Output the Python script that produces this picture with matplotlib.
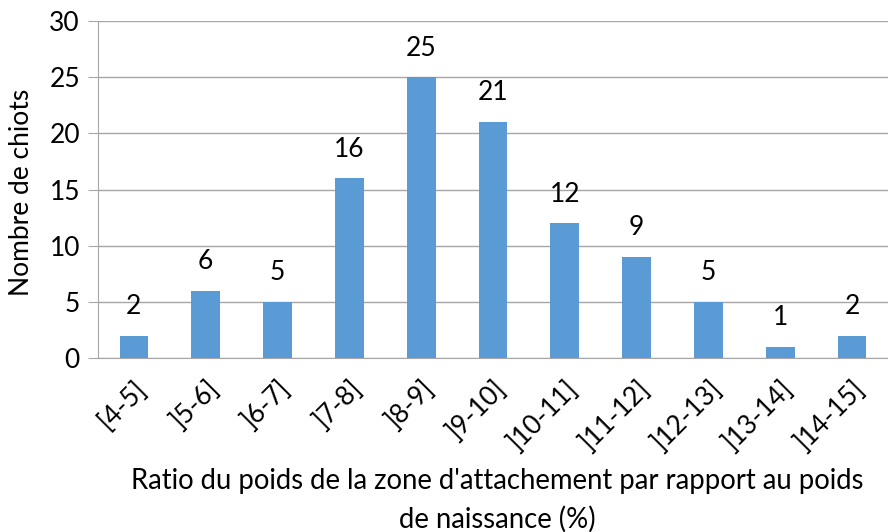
import matplotlib
matplotlib.use("Agg")
import matplotlib.pyplot as plt

categories = ["[4-5]", "]5-6]", "]6-7]", "]7-8]", "]8-9]", "]9-10]",
              "]10-11]", "]11-12]", "]12-13]", "]13-14]", "]14-15]"]
counts = [2, 6, 5, 16, 25, 21, 12, 9, 5, 1, 2]
y_ticks = [0, 5, 10, 15, 20, 25, 30]
x_label = "Ratio du poids de la zone d'attachement par rapport au poids\nde naissance (%)"
y_label = "Nombre de chiots"

plt.rcParams['font.family'] = ['Lato', 'DejaVu Sans']
FS = 19

fig = plt.figure(figsize=(8.88, 5.32), dpi=100)
ax = fig.add_axes([98/888, 1-358/532, 1-98/888, (358-21)/532])

grid_c = '#A6A6A6'
x = list(range(len(categories)))
bars = ax.bar(x, counts, width=0.4, color='#5B9BD5', zorder=3)
for xi, v in zip(x, counts):
    ax.annotate(str(v), (xi, v), xytext=(0, 12), textcoords='offset points',
                ha='center', va='bottom', fontsize=FS, color='#000000')

ax.set_xlim(-0.5, len(categories) - 0.5)
ax.set_ylim(0, 30)
ax.set_yticks(y_ticks)
ax.yaxis.grid(True, color=grid_c, linewidth=1, zorder=0)
ax.set_axisbelow(True)
for s in ['top', 'right']:
    ax.spines[s].set_visible(False)
ax.spines['left'].set_color(grid_c)
ax.spines['bottom'].set_color(grid_c)
ax.tick_params(axis='y', length=7, color=grid_c, labelsize=FS, pad=6)
ax.tick_params(axis='x', length=0, pad=13)
ax.set_xticks(x)
ax.set_xticklabels(categories, rotation=45, ha='right', rotation_mode='anchor', fontsize=FS)

fig.text(497/888, 1-500/532, x_label, ha='center', va='center', fontsize=19.8, linespacing=1.55)
fig.text(22/888, 1-192/532, y_label, ha='center', va='center', rotation=90, fontsize=FS)

fig.savefig('out.png', dpi=100)
